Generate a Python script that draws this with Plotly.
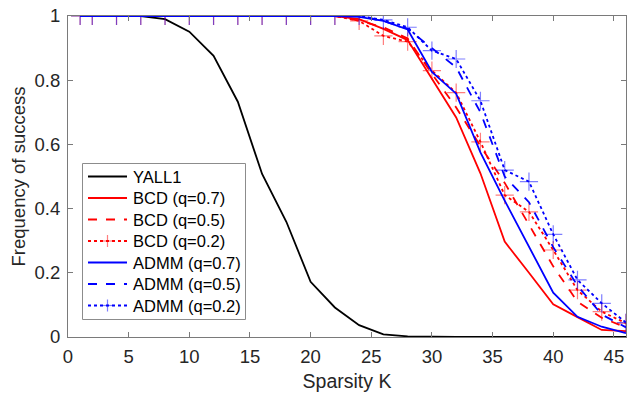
import plotly.graph_objects as go

K = [1, 2, 4, 6, 8, 10, 12, 14, 16, 18, 20, 22, 24, 26, 28, 30, 32, 34, 36, 38, 40, 42, 44, 46]

yall1 = [1, 1, 1, 1, 0.99, 0.951, 0.876, 0.733, 0.508, 0.359, 0.172, 0.092, 0.037, 0.008, 0.002, 0, 0, 0, 0, 0, 0, 0, 0, 0]
bcd_07 = [1, 1, 1, 1, 1, 1, 1, 1, 1, 1, 1, 1.0, 0.99, 0.96, 0.925, 0.806, 0.684, 0.51, 0.297, 0.2, 0.102, 0.062, 0.022, 0.018]
bcd_05 = [1, 1, 1, 1, 1, 1, 1, 1, 1, 1, 1, 1.0, 0.985, 0.965, 0.93, 0.82, 0.715, 0.595, 0.48, 0.35, 0.22, 0.11, 0.06, 0.03]
bcd_02 = [1, 1, 1, 1, 1, 1, 1, 1, 1, 1, 1, 1.0, 0.985, 0.938, 0.92, 0.83, 0.761, 0.608, 0.442, 0.39, 0.271, 0.146, 0.079, 0.043]
admm_07 = [1, 1, 1, 1, 1, 1, 1, 1, 1, 1, 1, 1.0, 0.997, 0.985, 0.958, 0.826, 0.758, 0.575, 0.425, 0.28, 0.138, 0.063, 0.032, 0.012]
admm_05 = [1, 1, 1, 1, 1, 1, 1, 1, 1, 1, 1, 1.0, 1.0, 0.985, 0.96, 0.9, 0.84, 0.7, 0.5, 0.42, 0.28, 0.16, 0.07, 0.03]
admm_02 = [1, 1, 1, 1, 1, 1, 1, 1, 1, 1, 1, 1.0, 1.0, 0.988, 0.965, 0.892, 0.866, 0.736, 0.52, 0.484, 0.32, 0.178, 0.105, 0.045]

x_ticks = [0, 5, 10, 15, 20, 25, 30, 35, 40, 45]
y_ticks = [0, 0.2, 0.4, 0.6, 0.8, 1]
y_tick_text = ["0", "0.2", "0.4", "0.6", "0.8", "1"]

RED = "#ff0000"
BLUE = "#0000ff"
LW = 1.8
FONT = "Liberation Sans, Arial, sans-serif"

series = [
    ("YALL1", yall1, "#000000", "solid", False),
    ("BCD (q=0.7)", bcd_07, RED, "solid", False),
    ("BCD (q=0.5)", bcd_05, RED, "dash", False),
    ("BCD (q=0.2)", bcd_02, RED, "dot", True),
    ("ADMM (q=0.7)", admm_07, BLUE, "solid", False),
    ("ADMM (q=0.5)", admm_05, BLUE, "dash", False),
    ("ADMM (q=0.2)", admm_02, BLUE, "dot", True),
]

W, H = 627, 394
ML, MR, MT, MB = 68, 1, 16, 57
PW, PH = W - ML - MR, H - MT - MB


def px2paper_x(px):
    return (px - ML) / PW


def px2paper_y(py):
    return (H - MB - py) / PH


fig = go.Figure()
for name, vals, color, dash, markers in series:
    if markers:
        kw = dict(mode="lines+markers",
                  marker=dict(symbol="cross-thin", size=13, opacity=0.5,
                              line=dict(color=color, width=1.2)))
    else:
        kw = dict(mode="lines")
    fig.add_trace(go.Scatter(x=K, y=vals, name=name, showlegend=False,
                             line=dict(color=color, width=LW, dash=dash), **kw))

# ---- manual legend (MATLAB-like compact layout) ----
shapes = []
annotations = []
box_l, box_r, box_t, box_b = 82.5, 245.5, 163.5, 319.5
shapes.append(dict(type="rect", xref="paper", yref="paper",
                   x0=px2paper_x(box_l), x1=px2paper_x(box_r),
                   y0=px2paper_y(box_b), y1=px2paper_y(box_t),
                   line=dict(color="#8c8c8c", width=1), fillcolor="white", layer="above"))
row0, row_step = 176.5, 21.5
ln_x0, ln_x1, txt_x = 88, 127, 131
for i, (name, vals, color, dash, markers) in enumerate(series):
    yy = row0 + i * row_step
    shapes.append(dict(type="line", xref="paper", yref="paper",
                       x0=px2paper_x(ln_x0), x1=px2paper_x(ln_x1),
                       y0=px2paper_y(yy), y1=px2paper_y(yy),
                       line=dict(color=color, width=LW, dash=dash), layer="above"))
    if markers:
        cx = (ln_x0 + ln_x1) / 2
        for (a0, b0, a1, b1) in [(cx - 6, yy, cx + 6, yy), (cx, yy - 6, cx, yy + 6)]:
            shapes.append(dict(type="line", xref="paper", yref="paper",
                               x0=px2paper_x(a0), x1=px2paper_x(a1),
                               y0=px2paper_y(b0), y1=px2paper_y(b1),
                               line=dict(color=color, width=1.2), opacity=0.5,
                               layer="above"))
    annotations.append(dict(text=name, xref="paper", yref="paper",
                            x=px2paper_x(txt_x), y=px2paper_y(yy),
                            xanchor="left", yanchor="middle", showarrow=False,
                            font=dict(family=FONT, size=16.5, color="#000000")))

axis_common = dict(showline=True, linecolor="#7a7a7a", linewidth=1,
                   mirror="ticks", ticks="inside", ticklen=5, tickwidth=1,
                   tickcolor="#7a7a7a", showgrid=False, zeroline=False,
                   tickfont=dict(family=FONT, size=18.5, color="#262626"))

fig.update_layout(
    width=W, height=H,
    margin=dict(l=ML, r=MR, t=MT, b=MB),
    paper_bgcolor="white", plot_bgcolor="white",
    font=dict(family=FONT, color="#262626"),
    xaxis=dict(range=[0, 46], tickvals=x_ticks, ticklabelstandoff=3,
               title=dict(text="Sparsity K", font=dict(size=19.5), standoff=8),
               **axis_common),
    yaxis=dict(range=[0, 1], tickvals=y_ticks, ticktext=y_tick_text, ticklabelstandoff=3,
               title=dict(text="Frequency of success", font=dict(size=18.5), standoff=4),
               **axis_common),
    shapes=shapes,
    annotations=annotations,
    showlegend=False,
)

fig.write_html("out.html")
